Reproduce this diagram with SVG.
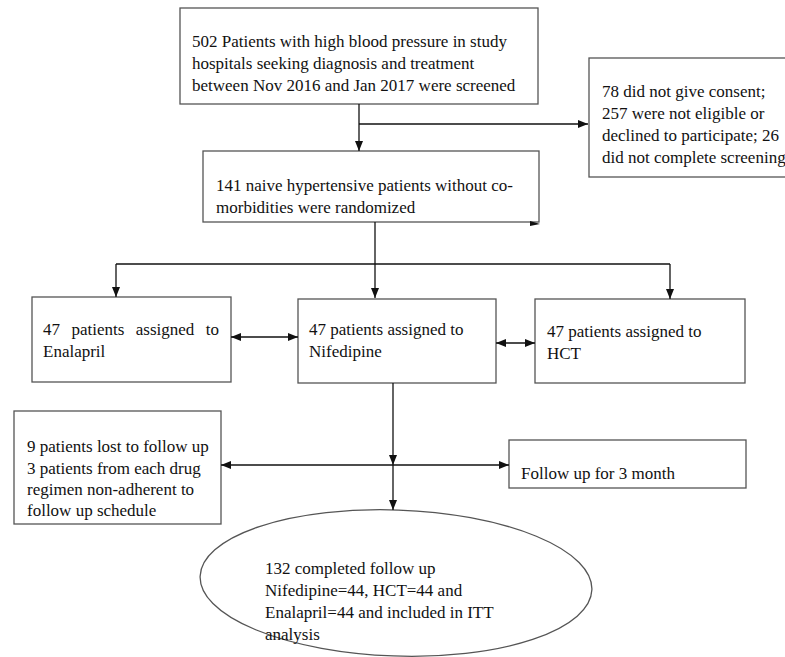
<svg xmlns="http://www.w3.org/2000/svg" width="785" height="657" viewBox="0 0 785 657">
<style>
.box{fill:#fff;stroke:#555;stroke-width:1.3}
.t{font-family:'Liberation Serif','DejaVu Serif','Times New Roman',serif;font-size:17px;fill:#111}
.c line{stroke:#111;stroke-width:1.3;fill:none}
</style>
<defs>
<marker id="ah" viewBox="0 0 10 8" refX="10" refY="4" markerWidth="10" markerHeight="8" markerUnits="userSpaceOnUse" orient="auto-start-reverse">
<path d="M0,0 L10,4 L0,8 z" fill="#111"/>
</marker>
</defs>
<rect width="785" height="657" fill="#fff"/>
<g id="n-screened">
<rect class="box" x="180" y="8" width="358" height="96"/>
<text class="t" x="192" y="47">502 Patients with high blood pressure in study</text>
<text class="t" x="192" y="69">hospitals seeking diagnosis and treatment</text>
<text class="t" x="192" y="91">between Nov 2016 and Jan 2017 were screened</text>
</g>
<g id="n-excluded">
<rect class="box" x="589" y="58" width="200" height="119"/>
<text class="t" x="602" y="97">78 did not give consent;</text>
<text class="t" x="602" y="119">257 were not eligible or</text>
<text class="t" x="602" y="141">declined to participate; 26</text>
<text class="t" x="602" y="163">did not complete screening</text>
</g>
<g id="n-randomized">
<rect class="box" x="203" y="151" width="336" height="71"/>
<text class="t" x="216" y="191">141 naive hypertensive patients without co-</text>
<text class="t" x="216" y="213">morbidities were randomized</text>
</g>
<g id="n-enalapril">
<rect class="box" x="32" y="297" width="199" height="85"/>
<text class="t" x="43" y="335" word-spacing="7.2">47 patients assigned to</text>
<text class="t" x="43" y="357">Enalapril</text>
</g>
<g id="n-nifedipine">
<rect class="box" x="298" y="299" width="198" height="84"/>
<text class="t" x="309" y="335">47 patients assigned to</text>
<text class="t" x="309" y="357">Nifedipine</text>
</g>
<g id="n-hct">
<rect class="box" x="535" y="299" width="210" height="84"/>
<text class="t" x="547" y="337">47 patients assigned to</text>
<text class="t" x="547" y="359">HCT</text>
</g>
<g id="n-lost">
<rect class="box" x="14" y="411" width="207" height="113"/>
<text class="t" x="27" y="452">9 patients lost to follow up</text>
<text class="t" x="27" y="474">3 patients from each drug</text>
<text class="t" x="27" y="495">regimen non-adherent to</text>
<text class="t" x="27" y="516">follow up schedule</text>
</g>
<g id="n-followup">
<rect class="box" x="509" y="440" width="237" height="48"/>
<text class="t" x="521" y="479">Follow up for 3 month</text>
</g>
<g id="n-completed">
<ellipse class="box" cx="396" cy="583" rx="196" ry="73" transform="rotate(2 396 583)"/>
<text class="t" x="265" y="574">132 completed follow up</text>
<text class="t" x="265" y="596">Nifedipine=44, HCT=44 and</text>
<text class="t" x="265" y="618">Enalapril=44 and included in ITT</text>
<text class="t" x="265" y="640">analysis</text>
</g>
<g id="connectors" class="c">
<line x1="359" y1="104" x2="359" y2="151" marker-end="url(#ah)"/>
<line x1="359" y1="124" x2="588" y2="124" marker-end="url(#ah)"/>
<line x1="375" y1="222" x2="375" y2="298" marker-end="url(#ah)"/>
<line x1="116" y1="264" x2="670" y2="264"/>
<line x1="116" y1="264" x2="116" y2="297" marker-end="url(#ah)"/>
<line x1="670" y1="264" x2="670" y2="299" marker-end="url(#ah)"/>
<line x1="231" y1="337" x2="298" y2="337" marker-start="url(#ah)" marker-end="url(#ah)"/>
<line x1="496" y1="343" x2="535" y2="343" marker-start="url(#ah)" marker-end="url(#ah)"/>
<line x1="393" y1="383" x2="393" y2="465" marker-end="url(#ah)"/>
<line x1="393" y1="465" x2="393" y2="510" marker-end="url(#ah)"/>
<line x1="221" y1="465" x2="509" y2="465" marker-start="url(#ah)" marker-end="url(#ah)"/>
<path d="M530,221 L540,224 L530,226 z" fill="#111"/>
</g>
</svg>
